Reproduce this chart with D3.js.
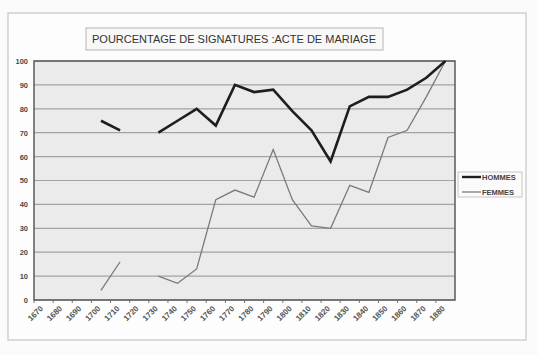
<!DOCTYPE html>
<html>
<head>
<meta charset="utf-8">
<script src="https://cdn.jsdelivr.net/npm/d3@7"></script>
<style>
  body { margin: 0; background: #fbfbfb; }
  text { font-family: "Liberation Sans", Arial, sans-serif; -webkit-font-smoothing: antialiased; }
</style>
</head>
<body>
<svg id="drawing_region"></svg>
<script>
// donnees (null = pas de valeur)
const annees = ['1670','1680','1690','1700','1710','1720','1730','1740','1750','1760','1770',
                '1780','1790','1800','1810','1820','1830','1840','1850','1860','1870','1880'];
const hommes = [null, null, null, 75, 71, null, 70, 75, 80, 73, 90,
                87, 88, 79, 71, 58, 81, 85, 85, 88, 93, 100];
const femmes = [null, null, null, 4, 16, null, 10, 7, 13, 42, 46,
                43, 63, 42, 31, 30, 48, 45, 68, 71, 85, 100];
const yTicks = [0, 10, 20, 30, 40, 50, 60, 70, 80, 90, 100];
const titre = 'POURCENTAGE DE SIGNATURES :ACTE DE MARIAGE';

const config = {
    width: 538,
    height: 355,
    margin: {top: 61, right: 83, bottom: 55, left: 34}
};

const svg = d3.select('#drawing_region')
    .attr('width', config.width)
    .attr('height', config.height);

const inner_width = config.width - config.margin.left - config.margin.right;
const inner_height = config.height - config.margin.top - config.margin.bottom;

// cadre exterieur
svg.append('rect')
    .attr('x', 8).attr('y', 13)
    .attr('width', 518).attr('height', 327)
    .attr('fill', '#fdfdfd')
    .attr('stroke', '#cfcfcf')
    .attr('stroke-width', 1.5);

const chart = svg.append('g')
    .attr('transform', `translate(${config.margin.left}, ${config.margin.top})`);

const xscale = d3.scaleBand()
    .domain(annees)
    .range([0, inner_width]);

const yscale = d3.scaleLinear()
    .domain([0, 100])
    .range([inner_height, 0]);

// fond de la zone de trace
chart.append('rect')
    .attr('width', inner_width)
    .attr('height', inner_height)
    .attr('fill', '#ebebeb');

// quadrillage
chart.selectAll('.grid')
    .data(yTicks)
    .enter()
    .append('line')
    .attr('x1', 0).attr('x2', inner_width)
    .attr('y1', d => yscale(d)).attr('y2', d => yscale(d))
    .attr('stroke', '#a3a3a3')
    .attr('stroke-width', 1.2);

// axe y
const yaxis = d3.axisLeft(yscale).tickValues(yTicks).tickSize(0).tickPadding(6);
chart.append('g')
    .call(yaxis)
    .call(g => g.select('.domain').remove())
    .selectAll('text')
    .style('font-size', '7.5px')
    .style('font-weight', 'bold')
    .attr('fill', '#4a4a4a');

// axe x
const xaxis = d3.axisBottom(xscale).tickSize(0).tickPadding(0);
chart.append('g')
    .attr('transform', `translate(0, ${inner_height})`)
    .call(xaxis)
    .call(g => g.select('.domain').remove())
    .selectAll('text')
    .style('font-size', '8px')
    .style('font-weight', 'bold')
    .attr('fill', '#555')
    .style('text-anchor', 'end')
    .attr('dy', 0)
    .attr('transform', 'translate(0, 9) rotate(-45)');

// petites graduations
chart.selectAll('.xtick')
    .data(annees)
    .enter()
    .append('line')
    .attr('x1', d => xscale(d)).attr('x2', d => xscale(d))
    .attr('y1', inner_height).attr('y2', inner_height + 3)
    .attr('stroke', '#777');

// bordure
chart.append('rect')
    .attr('width', inner_width)
    .attr('height', inner_height)
    .attr('fill', 'none')
    .attr('stroke', '#5a5a5a')
    .attr('stroke-width', 1.5);

const line = d3.line()
    .defined(d => d.v !== null)
    .x(d => xscale(d.annee) + xscale.bandwidth() / 2)
    .y(d => yscale(d.v));

chart.append('path')
    .datum(annees.map((a, i) => ({annee: a, v: femmes[i]})))
    .attr('d', line)
    .attr('fill', 'none')
    .attr('stroke', '#7a7a7a')
    .attr('stroke-width', 1.3);

chart.append('path')
    .datum(annees.map((a, i) => ({annee: a, v: hommes[i]})))
    .attr('d', line)
    .attr('fill', 'none')
    .attr('stroke', '#1e1e1e')
    .attr('stroke-width', 2.6);

// titre
const tg = svg.append('g');
tg.append('rect')
    .attr('x', 86).attr('y', 28)
    .attr('width', 297).attr('height', 22)
    .attr('fill', '#f8f8f8')
    .attr('stroke', '#b5b5b5');
tg.append('text')
    .attr('x', 234).attr('y', 43)
    .attr('text-anchor', 'middle')
    .attr('fill', '#333')
    .style('font-size', '11px')
    .attr('textLength', 284)
    .text(titre);

// legende
const series = [
    {nom: 'HOMMES', couleur: '#1e1e1e', largeur: 2.4},
    {nom: 'FEMMES', couleur: '#7a7a7a', largeur: 1.3}
];
const lg = svg.append('g').attr('transform', 'translate(458, 172)');
lg.append('rect')
    .attr('width', 64).attr('height', 25)
    .attr('fill', '#fbfbfb')
    .attr('stroke', '#c5c5c5');
lg.selectAll('.item')
    .data(series)
    .enter()
    .append('line')
    .attr('x1', 4).attr('x2', 23)
    .attr('y1', (d, i) => 5 + i * 15).attr('y2', (d, i) => 5 + i * 15)
    .attr('stroke', d => d.couleur)
    .attr('stroke-width', d => d.largeur);
lg.selectAll('.label')
    .data(series)
    .enter()
    .append('text')
    .attr('x', 24)
    .attr('y', (d, i) => 8 + i * 15)
    .style('font-size', '7.5px')
    .style('font-weight', 'bold')
    .attr('fill', '#444')
    .text(d => d.nom);
</script>
</body>
</html>
